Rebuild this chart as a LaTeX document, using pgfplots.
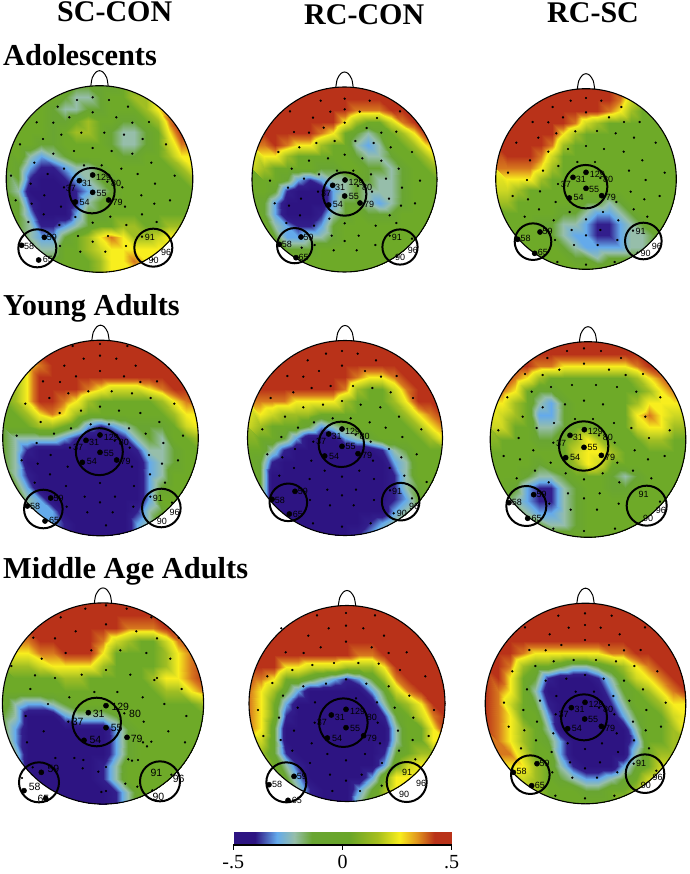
\documentclass[border=0pt]{standalone}
\usepackage{fontspec}
\setmainfont{Liberation Serif}
\newfontfamily\labf{Liberation Sans}
\usepackage{pgfplots}
\pgfplotsset{compat=1.18}
\pgfplotsset{
 colormap={heat}{rgb255(0)=(45,20,130) rgb255(1)=(50,30,140) rgb255(2)=(100,170,235) rgb255(3)=(150,190,170) rgb255(4)=(105,165,50) rgb255(5)=(110,170,40) rgb255(6)=(160,190,35) rgb255(7)=(205,215,35) rgb255(8)=(248,238,30) rgb255(9)=(215,120,30) rgb255(10)=(185,50,25)},
 colormap={bar}{rgb255(0)=(45,20,130) rgb255(10)=(45,20,130) rgb255(20)=(100,170,235) rgb255(28)=(150,190,170) rgb255(36)=(105,165,50) rgb255(53)=(105,165,40) rgb255(66)=(165,190,30) rgb255(76)=(248,238,30) rgb255(84)=(225,150,30) rgb255(92)=(185,50,25) rgb255(100)=(185,50,25)},
 px/.style={at={(0pt,0pt)},anchor=south west,scale only axis,width=689pt,height=874pt,xmin=0,xmax=689,ymin=0,ymax=874,hide axis},
}
\newcommand\heat[4]{\begin{scope}
 \clip ({#1pt},{874pt-#2pt}) circle[radius=#3pt];
 \begin{axis}[px,view={0}{90},colormap name=heat,point meta min=-5,point meta max=5]
 \addplot3[surf,shader=interp,mesh/cols=17,point meta=\thisrow{v}] table[row sep=crcr,x expr={#1+#3*(mod(\coordindex,17)-8)/8},y expr={874-(#2+#3*(floor(\coordindex/17)-8)/8)},z expr=0]{v\\ #4};
 \end{axis}\end{scope}}
\newcommand\sd[3]{\addplot[only marks,mark=*,mark size=0.95pt,black] table[row sep=crcr,header=false,x expr=\thisrowno{0}/3+#1,y expr=\thisrowno{1}/3+#2]{#3};}
\newcommand\bd[3]{\addplot[only marks,mark=*,mark size=2.6pt,black] table[row sep=crcr,header=false,x expr=\thisrowno{0}/3+#1,y expr=\thisrowno{1}/3+#2]{#3};}
\newcommand\roi[5]{\addplot[only marks,mark=o,mark size=#5pt,mark options={line width=#4pt,black}] table[row sep=crcr,header=false,x expr=\thisrowno{0}/3+#1,y expr=\thisrowno{1}/3+#2]{#3};}
\newcommand\head[3]{\addplot[only marks,mark=o,mark size=#3pt,mark options={line width=1.1pt,black}] coordinates {(#1,#2)};
 \addplot[smooth,black,line width=1pt] coordinates {({#1-8.7},{#2-#3+0.5}) ({#1-7.2},{#2-#3-8}) ({#1-3.6},{#2-#3-13.5}) ({#1},{#2-#3-15}) ({#1+3.6},{#2-#3-13.5}) ({#1+7.2},{#2-#3-8}) ({#1+8.7},{#2-#3+0.5})};}
\newcommand\tx[4][9]{\edef\tmp{\noexpand\node[anchor=west,inner sep=0pt,font={\noexpand\labf\noexpand\fontsize{#1}{#1}\noexpand\selectfont}] at (axis cs:{#2/3+\ox},{#3/3+\oy}) {#4};}\tmp}
\newcommand\ttl[4][30]{\node[anchor=base west,inner sep=0pt,font={\bfseries\fontsize{#1}{#1}\selectfont}] at (axis cs:#2,#3) {#4};}
\begin{document}
\begin{tikzpicture}[x=1pt,y=1pt]
\useasboundingbox (0,0) rectangle (689pt,874pt);
\heat{99.5}{179}{93.3}{
0\\0\\0\\0\\0\\0\\-1\\-1\\-1\\-1\\0\\0\\0\\1\\1\\1\\1\\
0\\0\\0\\0\\0\\-1\\-2\\-2\\-1\\0\\0\\1\\1\\3\\3\\3\\3\\
0\\0\\0\\0\\-1\\-2\\-2\\-1\\-1\\0\\0\\0\\1\\3\\4\\5\\5\\
0\\0\\0\\0\\-1\\-1\\0\\1\\0\\0\\-1\\-1\\0\\1\\4\\5\\5\\
0\\0\\0\\0\\-1\\0\\1\\1\\0\\-1\\-2\\-2\\-1\\0\\3\\5\\5\\
0\\0\\0\\-1\\-1\\0\\0\\0\\0\\-1\\-2\\-2\\-1\\0\\2\\4\\4\\
0\\0\\-2\\-3\\-2\\-1\\0\\0\\0\\0\\-1\\-1\\0\\0\\1\\3\\3\\
0\\-1\\-3\\-4\\-4\\-3\\-2\\-2\\-1\\0\\0\\0\\0\\0\\0\\1\\3\\
-1\\-1\\-4\\-5\\-5\\-4\\-3\\-2\\-1\\-1\\0\\0\\0\\0\\0\\0\\1\\
-1\\-2\\-5\\-5\\-5\\-5\\-4\\-3\\-2\\-1\\0\\0\\0\\0\\0\\0\\0\\
-1\\-1\\-4\\-5\\-5\\-5\\-4\\-2\\-1\\0\\0\\0\\0\\0\\0\\0\\0\\
0\\-1\\-3\\-5\\-5\\-5\\-3\\-1\\-1\\0\\0\\0\\0\\0\\0\\0\\0\\
0\\-1\\-2\\-4\\-4\\-3\\-2\\-1\\0\\0\\1\\1\\0\\0\\1\\1\\1\\
0\\0\\-2\\-3\\-3\\-1\\0\\1\\3\\4\\3\\1\\1\\2\\3\\3\\3\\
0\\0\\-1\\-2\\-2\\0\\0\\1\\2\\3\\3\\3\\3\\3\\3\\3\\3\\
0\\0\\0\\-1\\-1\\0\\0\\0\\1\\3\\3\\4\\3\\3\\3\\3\\3\\
0\\0\\0\\0\\0\\0\\0\\0\\1\\3\\3\\3\\3\\3\\3\\3\\3\\
}
\heat{344.5}{179.5}{92.5}{
5\\5\\5\\5\\5\\5\\5\\5\\5\\5\\5\\5\\5\\5\\5\\5\\5\\
5\\5\\5\\5\\5\\5\\5\\5\\5\\5\\5\\5\\5\\5\\5\\5\\5\\
5\\5\\5\\5\\5\\5\\5\\5\\5\\4\\4\\4\\5\\5\\5\\5\\5\\
5\\5\\5\\5\\5\\5\\5\\5\\3\\1\\0\\0\\2\\4\\5\\5\\5\\
5\\5\\5\\5\\5\\5\\4\\3\\0\\-1\\-2\\-1\\0\\1\\3\\5\\5\\
4\\4\\5\\4\\3\\3\\1\\0\\0\\-2\\-3\\-2\\0\\0\\1\\3\\4\\
3\\3\\3\\1\\0\\0\\0\\0\\0\\-1\\-2\\-2\\-1\\0\\0\\1\\3\\
2\\1\\0\\0\\0\\0\\-1\\-1\\0\\0\\-1\\-1\\-2\\-1\\0\\0\\1\\
0\\0\\0\\-1\\-3\\-4\\-3\\-2\\-2\\-1\\-1\\-2\\-2\\-1\\0\\0\\0\\
0\\0\\-1\\-4\\-5\\-5\\-5\\-3\\-2\\-1\\-2\\-2\\-2\\-1\\0\\0\\0\\
0\\-1\\-3\\-5\\-5\\-5\\-5\\-3\\-1\\-1\\-2\\-3\\-2\\-1\\0\\0\\0\\
0\\-1\\-3\\-5\\-5\\-5\\-4\\-2\\-1\\0\\-1\\-1\\-1\\0\\0\\0\\0\\
0\\0\\-2\\-3\\-4\\-4\\-3\\-1\\0\\0\\0\\0\\0\\0\\0\\0\\0\\
0\\0\\-1\\-3\\-3\\-2\\-2\\-1\\0\\0\\0\\0\\0\\0\\0\\0\\0\\
0\\0\\0\\-1\\-1\\-1\\0\\0\\0\\0\\0\\0\\0\\0\\0\\0\\0\\
0\\0\\0\\0\\0\\0\\0\\0\\0\\0\\0\\0\\0\\0\\0\\0\\0\\
0\\0\\0\\0\\0\\0\\0\\0\\0\\0\\0\\0\\0\\0\\0\\0\\0\\
}
\heat{586}{179}{90.3}{
5\\5\\5\\5\\5\\5\\5\\5\\5\\5\\5\\5\\4\\2\\0\\0\\0\\
5\\5\\5\\5\\5\\5\\5\\5\\5\\5\\5\\4\\2\\0\\0\\0\\0\\
5\\5\\5\\5\\5\\5\\5\\5\\5\\5\\4\\3\\1\\0\\0\\0\\0\\
5\\5\\5\\5\\5\\5\\5\\4\\2\\1\\0\\0\\0\\0\\0\\0\\0\\
5\\5\\5\\5\\5\\5\\3\\1\\0\\0\\0\\0\\0\\0\\0\\0\\0\\
5\\5\\5\\5\\5\\4\\1\\0\\0\\0\\0\\0\\0\\0\\0\\0\\0\\
5\\5\\5\\5\\4\\2\\0\\0\\0\\0\\0\\0\\0\\0\\0\\0\\0\\
4\\4\\4\\4\\3\\1\\0\\0\\0\\0\\0\\0\\0\\0\\0\\0\\0\\
3\\3\\3\\3\\1\\0\\0\\0\\0\\0\\0\\0\\0\\0\\0\\0\\0\\
2\\2\\1\\0\\0\\0\\0\\0\\0\\0\\0\\0\\0\\0\\0\\0\\0\\
1\\1\\0\\0\\0\\0\\0\\0\\-1\\-1\\-2\\-1\\0\\0\\0\\0\\0\\
0\\0\\0\\0\\0\\0\\-1\\-1\\-2\\-3\\-3\\-2\\-1\\0\\0\\0\\0\\
0\\0\\0\\0\\-1\\-1\\-2\\-2\\-3\\-4\\-4\\-3\\-2\\-1\\0\\0\\0\\
0\\0\\0\\0\\0\\-1\\-2\\-3\\-3\\-4\\-4\\-3\\-2\\-2\\-1\\0\\0\\
0\\0\\0\\0\\0\\0\\-1\\-2\\-3\\-3\\-3\\-3\\-2\\-2\\-1\\0\\0\\
0\\0\\0\\0\\0\\0\\0\\-1\\-1\\-2\\-1\\-1\\-1\\-1\\0\\0\\0\\
0\\0\\0\\0\\0\\0\\0\\0\\0\\0\\0\\0\\0\\0\\0\\0\\0\\
}
\heat{100.5}{438}{97.8}{
5\\5\\5\\5\\5\\5\\5\\5\\5\\5\\5\\5\\5\\5\\5\\5\\5\\
5\\5\\5\\5\\5\\5\\5\\5\\5\\5\\5\\5\\5\\5\\5\\5\\5\\
3\\3\\3\\4\\5\\5\\5\\5\\5\\5\\5\\5\\5\\5\\5\\5\\5\\
1\\1\\3\\5\\5\\5\\5\\5\\5\\5\\5\\5\\5\\5\\5\\5\\5\\
0\\1\\3\\5\\5\\5\\5\\4\\3\\2\\2\\2\\3\\4\\5\\5\\5\\
0\\1\\3\\5\\5\\4\\3\\1\\0\\0\\0\\0\\0\\1\\3\\4\\5\\
0\\0\\1\\3\\4\\3\\1\\0\\0\\0\\0\\0\\0\\0\\1\\3\\3\\
0\\0\\0\\1\\1\\0\\-1\\-3\\-4\\-3\\-2\\-1\\-1\\-1\\0\\2\\3\\
-1\\-2\\-2\\-2\\-2\\-3\\-4\\-5\\-5\\-5\\-4\\-2\\-1\\-2\\0\\0\\1\\
-1\\-2\\-4\\-5\\-5\\-5\\-5\\-5\\-5\\-5\\-5\\-4\\-2\\-2\\-1\\0\\0\\
-1\\-2\\-5\\-5\\-5\\-5\\-5\\-5\\-5\\-5\\-5\\-5\\-3\\-2\\-1\\0\\0\\
-1\\-2\\-4\\-5\\-5\\-5\\-5\\-5\\-5\\-5\\-5\\-5\\-3\\-2\\0\\0\\0\\
0\\-1\\-3\\-5\\-5\\-5\\-5\\-5\\-5\\-5\\-5\\-5\\-3\\-1\\0\\0\\0\\
0\\0\\-2\\-3\\-5\\-5\\-5\\-5\\-5\\-5\\-5\\-5\\-3\\0\\0\\0\\0\\
0\\0\\-1\\-3\\-3\\-5\\-5\\-5\\-5\\-5\\-5\\-4\\-2\\-1\\0\\0\\0\\
0\\0\\0\\-2\\-3\\-4\\-5\\-5\\-5\\-5\\-5\\-3\\-2\\0\\0\\0\\0\\
0\\0\\0\\-2\\-3\\-4\\-5\\-5\\-5\\-5\\-5\\-3\\-2\\0\\0\\0\\0\\
}
\heat{345}{438}{97.5}{
5\\5\\5\\5\\5\\5\\5\\5\\5\\5\\5\\5\\5\\5\\5\\5\\5\\
5\\5\\5\\5\\5\\5\\5\\5\\5\\5\\5\\5\\5\\5\\5\\5\\5\\
5\\5\\5\\5\\5\\5\\5\\5\\5\\5\\5\\5\\5\\5\\5\\5\\5\\
5\\5\\5\\5\\5\\5\\5\\5\\5\\4\\3\\3\\4\\5\\5\\5\\5\\
5\\5\\5\\5\\5\\5\\5\\5\\4\\1\\0\\0\\2\\4\\5\\5\\5\\
4\\4\\4\\4\\3\\3\\3\\3\\1\\0\\0\\0\\1\\3\\5\\5\\5\\
3\\3\\2\\1\\1\\1\\0\\0\\0\\0\\0\\0\\0\\1\\3\\4\\5\\
2\\1\\0\\0\\0\\-1\\-3\\-2\\-1\\0\\0\\0\\0\\0\\1\\3\\4\\
1\\0\\0\\-1\\-3\\-5\\-5\\-5\\-3\\-2\\-1\\0\\0\\0\\0\\1\\3\\
0\\0\\-2\\-4\\-5\\-5\\-5\\-5\\-5\\-5\\-5\\-4\\-2\\-1\\0\\0\\0\\
0\\-1\\-4\\-5\\-5\\-5\\-5\\-5\\-5\\-5\\-5\\-5\\-3\\-2\\0\\0\\0\\
0\\-1\\-5\\-5\\-5\\-5\\-5\\-5\\-5\\-5\\-5\\-5\\-4\\-2\\0\\0\\0\\
0\\-1\\-5\\-5\\-5\\-5\\-5\\-5\\-5\\-5\\-5\\-5\\-4\\-2\\-1\\0\\0\\
-1\\-1\\-5\\-5\\-5\\-5\\-5\\-5\\-5\\-5\\-5\\-5\\-4\\-3\\-1\\0\\0\\
-1\\-1\\-4\\-5\\-5\\-5\\-5\\-5\\-5\\-5\\-5\\-5\\-3\\-2\\-1\\0\\0\\
-1\\-1\\-4\\-5\\-5\\-5\\-5\\-5\\-5\\-5\\-4\\-3\\-2\\-1\\0\\0\\0\\
0\\0\\-4\\-5\\-5\\-5\\-5\\-5\\-5\\-4\\-3\\-2\\-1\\0\\0\\0\\0\\
}
\heat{588}{439.5}{97.8}{
5\\5\\5\\5\\5\\5\\5\\5\\5\\5\\5\\5\\5\\5\\5\\5\\5\\
5\\5\\5\\5\\5\\5\\5\\5\\5\\5\\5\\5\\5\\5\\5\\5\\5\\
5\\5\\5\\5\\4\\4\\3\\3\\3\\3\\3\\3\\4\\5\\5\\5\\5\\
5\\5\\4\\3\\1\\0\\0\\0\\0\\0\\0\\0\\1\\3\\4\\5\\5\\
4\\4\\3\\0\\-1\\-1\\0\\0\\0\\0\\0\\0\\0\\1\\3\\4\\4\\
3\\3\\1\\0\\-2\\-3\\-1\\0\\0\\0\\0\\0\\1\\3\\3\\3\\3\\
3\\2\\1\\0\\-3\\-3\\-1\\0\\0\\0\\0\\0\\3\\4\\3\\2\\2\\
2\\2\\0\\0\\-2\\-2\\-1\\0\\0\\0\\0\\0\\2\\3\\3\\1\\1\\
1\\0\\0\\0\\-1\\-1\\0\\1\\3\\1\\0\\0\\0\\1\\1\\0\\0\\
0\\0\\0\\0\\0\\0\\0\\2\\3\\3\\1\\0\\0\\0\\0\\0\\0\\
0\\0\\0\\0\\-1\\0\\0\\1\\3\\2\\0\\0\\0\\0\\0\\0\\0\\
0\\0\\0\\-1\\-2\\-2\\-1\\0\\0\\0\\-1\\-2\\-1\\0\\0\\0\\0\\
0\\0\\-1\\-3\\-4\\-4\\-2\\-1\\0\\0\\-1\\-1\\0\\0\\0\\0\\0\\
0\\-1\\-2\\-3\\-4\\-4\\-2\\-1\\0\\0\\0\\0\\0\\0\\0\\0\\0\\
0\\0\\-1\\-2\\-3\\-3\\-2\\-1\\0\\0\\0\\0\\0\\0\\0\\0\\0\\
0\\0\\0\\-1\\-1\\-2\\-2\\-1\\0\\0\\0\\0\\0\\0\\0\\0\\0\\
0\\0\\0\\0\\0\\0\\0\\0\\0\\0\\0\\0\\0\\0\\0\\0\\0\\
}
\heat{103}{703.5}{100.6}{
5\\5\\5\\5\\5\\5\\5\\5\\5\\5\\5\\5\\5\\5\\5\\5\\5\\
5\\5\\5\\5\\5\\5\\5\\5\\5\\5\\5\\5\\5\\5\\5\\5\\5\\
5\\5\\5\\5\\5\\5\\5\\5\\5\\5\\4\\4\\4\\5\\5\\5\\5\\
4\\4\\4\\5\\5\\5\\5\\5\\4\\2\\1\\0\\0\\2\\4\\5\\5\\
3\\3\\3\\4\\4\\5\\5\\5\\3\\0\\0\\0\\0\\1\\3\\4\\5\\
1\\1\\1\\2\\3\\3\\3\\3\\1\\0\\0\\0\\0\\1\\3\\4\\5\\
0\\0\\0\\0\\0\\1\\1\\0\\0\\0\\0\\0\\1\\3\\3\\4\\5\\
0\\0\\0\\0\\0\\0\\0\\0\\0\\0\\0\\0\\0\\1\\1\\3\\4\\
0\\-2\\-3\\-3\\-2\\-1\\0\\0\\0\\0\\0\\0\\0\\0\\0\\0\\1\\
-1\\-2\\-5\\-5\\-5\\-3\\-2\\-2\\-2\\-1\\0\\0\\0\\0\\0\\0\\0\\
-1\\-3\\-5\\-5\\-5\\-5\\-5\\-5\\-5\\-3\\-1\\0\\0\\0\\0\\0\\0\\
-1\\-3\\-5\\-5\\-5\\-5\\-5\\-5\\-5\\-3\\-1\\0\\0\\0\\0\\0\\0\\
-1\\-2\\-5\\-5\\-5\\-5\\-5\\-5\\-5\\-3\\-1\\0\\0\\0\\0\\0\\0\\
-1\\-1\\-5\\-5\\-5\\-5\\-5\\-5\\-4\\-2\\0\\0\\0\\0\\0\\0\\0\\
-1\\-1\\-4\\-5\\-5\\-5\\-5\\-5\\-4\\-2\\0\\0\\0\\0\\0\\0\\0\\
-1\\-1\\-4\\-5\\-5\\-5\\-5\\-5\\-5\\-4\\-2\\0\\0\\0\\0\\0\\0\\
-1\\-1\\-4\\-5\\-5\\-5\\-5\\-5\\-5\\-4\\-2\\0\\0\\0\\0\\0\\0\\
}
\heat{347}{703.5}{98}{
5\\5\\5\\5\\5\\5\\5\\5\\5\\5\\5\\5\\5\\5\\5\\5\\5\\
5\\5\\5\\5\\5\\5\\5\\5\\5\\5\\5\\5\\5\\5\\5\\5\\5\\
5\\5\\5\\5\\5\\5\\5\\5\\5\\5\\5\\5\\5\\5\\5\\5\\5\\
5\\5\\5\\5\\5\\5\\5\\5\\5\\5\\5\\5\\5\\5\\5\\5\\5\\
5\\5\\5\\5\\5\\5\\5\\5\\5\\4\\4\\5\\5\\5\\5\\5\\5\\
5\\5\\5\\3\\3\\2\\2\\2\\1\\1\\1\\3\\5\\5\\5\\5\\5\\
5\\4\\3\\0\\0\\-1\\-2\\-3\\-4\\-3\\-1\\1\\4\\5\\5\\5\\5\\
4\\3\\1\\-1\\-3\\-5\\-5\\-5\\-5\\-5\\-3\\-1\\2\\4\\5\\5\\5\\
4\\3\\0\\-3\\-5\\-5\\-5\\-5\\-5\\-5\\-5\\-2\\0\\1\\3\\5\\5\\
4\\3\\0\\-4\\-5\\-5\\-5\\-5\\-5\\-5\\-5\\-4\\-1\\0\\2\\4\\5\\
4\\3\\-1\\-5\\-5\\-5\\-5\\-5\\-5\\-5\\-5\\-5\\-2\\0\\0\\3\\5\\
3\\2\\-1\\-5\\-5\\-5\\-5\\-5\\-5\\-5\\-5\\-5\\-2\\0\\0\\3\\3\\
2\\1\\-1\\-4\\-5\\-5\\-5\\-5\\-5\\-5\\-5\\-4\\-1\\0\\1\\1\\1\\
1\\1\\0\\-2\\-4\\-5\\-5\\-5\\-5\\-5\\-5\\-3\\0\\2\\3\\3\\3\\
0\\0\\0\\-1\\-3\\-5\\-5\\-5\\-5\\-5\\-3\\0\\3\\3\\3\\3\\3\\
0\\0\\0\\0\\-2\\-4\\-5\\-5\\-5\\-3\\-1\\1\\3\\3\\3\\3\\3\\
0\\0\\0\\0\\-1\\-4\\-5\\-5\\-5\\-2\\0\\1\\3\\3\\3\\3\\3\\
}
\heat{585.5}{703.5}{100.3}{
5\\5\\5\\5\\5\\5\\5\\5\\5\\5\\5\\5\\5\\5\\5\\5\\5\\
5\\5\\5\\5\\5\\5\\5\\5\\5\\5\\5\\5\\5\\5\\5\\5\\5\\
5\\5\\5\\5\\5\\5\\5\\5\\5\\5\\5\\5\\5\\5\\5\\5\\5\\
5\\5\\5\\5\\5\\5\\5\\5\\5\\5\\5\\5\\5\\5\\5\\5\\5\\
5\\5\\5\\4\\3\\3\\3\\3\\3\\3\\4\\4\\5\\5\\5\\5\\5\\
5\\5\\4\\1\\0\\0\\-1\\-2\\-2\\-1\\0\\1\\3\\4\\5\\5\\5\\
5\\5\\3\\0\\-1\\-4\\-5\\-5\\-5\\-4\\-2\\0\\2\\3\\4\\5\\5\\
5\\4\\3\\0\\-2\\-5\\-5\\-5\\-5\\-5\\-3\\-1\\0\\1\\3\\4\\5\\
5\\4\\2\\0\\-1\\-4\\-5\\-5\\-5\\-5\\-4\\-2\\0\\0\\1\\3\\3\\
5\\4\\3\\0\\0\\-3\\-5\\-5\\-5\\-5\\-5\\-3\\-1\\0\\0\\2\\3\\
5\\4\\3\\1\\0\\-2\\-5\\-5\\-5\\-5\\-5\\-5\\-2\\0\\0\\1\\3\\
4\\4\\3\\1\\0\\-1\\-3\\-5\\-5\\-5\\-5\\-5\\-3\\0\\0\\1\\1\\
4\\4\\4\\2\\0\\0\\-3\\-5\\-5\\-5\\-5\\-5\\-2\\0\\1\\1\\1\\
3\\3\\3\\3\\1\\0\\-2\\-4\\-5\\-5\\-5\\-3\\-1\\0\\2\\2\\2\\
1\\1\\1\\2\\1\\0\\-1\\-2\\-3\\-3\\-2\\-1\\0\\2\\3\\3\\3\\
1\\1\\1\\1\\1\\0\\0\\0\\-1\\-1\\0\\0\\1\\3\\3\\3\\3\\
0\\0\\0\\0\\0\\0\\0\\0\\0\\0\\0\\1\\1\\3\\3\\3\\3\\
}
\begin{axis}[px,clip=false,y dir=reverse]
\head{99.5}{179}{93.3}
\head{344.5}{179.5}{92.5}
\head{586}{179}{90.3}
\head{100.5}{438}{97.8}
\head{345}{438}{97.5}
\head{588}{439.5}{97.8}
\head{103}{703.5}{100.6}
\head{347}{703.5}{98}
\head{585.5}{703.5}{100.3}
% head 1
\sd{0}{60}{231 120\\278 112\\327 120\\173 140\\384 140\\278 157\\208 172\\349 172\\110 187\\160 188\\397 188\\447 186\\244 218\\184 224\\313 218\\372 224\\129 237\\428 237\\60 253\\498 253\\278 264\\222 273\\335 273\\160 281\\397 281\\103 308\\454 308\\192 326\\252 316\\305 316\\364 326\\33 347\\143 342\\413 342\\524 347\\92 371\\322 365\\192 382\\367 382\\465 371\\133 406\\424 406\\47 421\\510 421\\95 431\\463 431\\183 440\\375 440\\131 463\\426 463\\85 486\\470 486\\178 495\\278 488\\331 470\\226 471\\379 495\\234 528\\324 528\\180 558\\278 545\\378 558\\241 575\\316 575\\426 530\\458 598\\}
\bd{0}{60}{278 345\\238 362\\278 397\\226 426\\326 420\\133 532\\65 556\\116 600\\}
\roi{0}{60}{276 392\\}{2}{22.7}
\roi{0}{60}{112 565\\460 563\\}{2}{19}
\def\ox{0}\def\oy{60}
\tx{288}{352}{129}\tx{245}{369}{31}\tx{289}{399}{55}\tx{238}{427}{54}\tx{337}{427}{79}\tx{197}{384}{37}\tx{333}{370}{80}\tx{140}{532}{59}\tx{72}{558}{58}\tx{128}{599}{65}\tx{434}{532}{91}\tx{483}{577}{96}\tx{445}{600}{90}
% head 2
\sd{240}{60}{242 122\\314 116\\389 122\\150 154\\271 155\\314 148\\359 155\\480 154\\219 173\\411 174\\314 188\\251 203\\380 204\\162 216\\207 218\\424 218\\469 215\\284 243\\346 243\\401 249\\178 262\\229 249\\452 262\\115 276\\314 284\\516 276\\207 302\\264 295\\367 295\\424 302\\476 326\\155 326\\291 332\\340 332\\393 343\\237 343\\438 356\\90 362\\192 356\\540 362\\354 378\\144 383\\486 383\\234 395\\396 395\\183 416\\447 416\\104 430\\147 437\\483 437\\525 430\\180 466\\449 466\\268 476\\139 489\\314 490\\407 497\\222 497\\469 489\\275 527\\356 527\\224 555\\314 543\\406 555\\185 563\\281 571\\350 571\\449 527\\516 536\\470 590\\}
\bd{240}{60}{315 360\\278 376\\314 408\\266 435\\360 429\\183 531\\118 553\\168 593\\}
\roi{240}{60}{314 402\\}{2}{21.7}
\roi{240}{60}{164 557\\480 561\\}{2}{17.6}
\def\ox{240}\def\oy{60}
\tx{325}{368}{129}\tx{285}{382}{31}\tx{326}{409}{55}\tx{278}{434}{54}\tx{372}{433}{79}\tx{243}{399}{37}\tx{366}{382}{80}\tx{190}{532}{59}\tx{125}{553}{58}\tx{175}{593}{65}\tx{455}{533}{91}\tx{503}{572}{96}\tx{465}{592}{90}
% head 3
\sd{459}{60}{335 122\\381 114\\427 122\\281 141\\487 141\\381 157\\312 172\\450 172\\221 186\\268 187\\495 186\\542 186\\349 214\\414 213\\292 220\\470 220\\238 233\\525 233\\172 248\\590 248\\381 258\\327 267\\435 267\\268 275\\494 275\\213 301\\550 301\\298 318\\355 306\\408 306\\147 338\\252 332\\510 332\\617 338\\204 360\\560 360\\424 354\\297 372\\243 394\\515 395\\161 408\\602 408\\207 418\\556 418\\290 426\\472 426\\240 448\\524 448\\332 456\\432 456\\197 470\\565 470\\284 481\\478 481\\381 478\\338 510\\424 510\\288 540\\381 526\\475 540\\345 555\\416 555\\295 606\\381 614\\467 606\\522 512\\536 578\\}
\bd{459}{60}{381 337\\342 352\\381 385\\331 414\\428 407\\243 516\\176 538\\227 580\\}
\roi{459}{60}{380 380\\}{2}{21.7}
\roi{459}{60}{222 545\\553 543\\}{2}{18.3}
\def\ox{459}\def\oy{60}
\tx{392}{342}{129}\tx{350}{358}{31}\tx{390}{387}{55}\tx{343}{412}{54}\tx{440}{412}{79}\tx{305}{373}{37}\tx{432}{357}{80}\tx{250}{514}{59}\tx{184}{536}{58}\tx{236}{578}{65}\tx{529}{515}{91}\tx{578}{558}{96}\tx{544}{580}{90}
% head 4
\sd{0}{320}{218 78\\300 72\\382 78\\251 116\\300 107\\349 116\\193 137\\407 137\\300 153\\228 169\\372 169\\129 184\\180 186\\421 186\\471 184\\335 214\\265 214\\205 220\\396 220\\148 234\\452 234\\76 251\\523 251\\300 260\\243 272\\357 272\\179 279\\421 279\\122 306\\478 306\\213 325\\387 325\\272 313\\327 313\\50 347\\162 341\\437 341\\549 347\\344 362\\110 369\\490 369\\210 383\\389 383\\152 405\\447 405\\65 421\\534 421\\113 431\\486 431\\203 440\\396 440\\150 463\\450 463\\104 488\\495 488\\198 498\\300 489\\402 498\\254 530\\345 530\\200 560\\300 547\\400 560\\262 577\\338 577\\318 616\\451 530\\516 548\\}
\bd{0}{320}{300 345\\258 361\\300 397\\247 427\\350 420\\152 534\\82 558\\135 603\\}
\roi{0}{320}{298 395\\}{2}{23.5}
\roi{0}{320}{130 567\\484 564\\}{2}{19.3}
\def\ox{0}\def\oy{320}
\tx{311}{351}{129}\tx{267}{368}{31}\tx{311}{399}{55}\tx{260}{425}{54}\tx{361}{425}{79}\tx{219}{383}{37}\tx{356}{368}{80}\tx{160}{535}{59}\tx{90}{558}{58}\tx{147}{602}{65}\tx{458}{535}{91}\tx{508}{578}{96}\tx{470}{603}{90}
% head 5
\sd{240}{320}{258 101\\306 93\\353 101\\203 121\\408 121\\306 137\\237 153\\375 153\\142 168\\190 170\\423 170\\470 168\\160 217\\215 204\\272 198\\339 198\\397 204\\452 217\\92 234\\519 234\\306 243\\190 262\\249 254\\362 254\\421 262\\135 290\\477 290\\222 307\\278 295\\332 295\\389 307\\67 328\\174 323\\437 323\\544 328\\124 351\\487 351\\347 344\\220 365\\392 365\\165 387\\447 387\\82 403\\127 412\\484 412\\530 403\\214 422\\399 422\\162 444\\449 444\\254 452\\358 452\\118 467\\493 467\\209 477\\306 470\\402 477\\262 509\\348 509\\560 486\\210 540\\306 526\\402 540\\270 556\\341 556\\219 610\\392 610\\306 620\\450 511\\516 535\\461 580\\}
\bd{240}{320}{306 327\\266 342\\306 379\\254 408\\354 401\\165 514\\96 538\\148 582\\}
\roi{240}{320}{304 373\\}{2}{22.7}
\roi{240}{320}{145 547\\482 545\\}{2}{18.8}
\def\ox{240}\def\oy{320}
\tx{315}{334}{129}\tx{274}{348}{31}\tx{316}{380}{55}\tx{267}{408}{54}\tx{366}{407}{79}\tx{228}{364}{37}\tx{358}{348}{80}\tx{173}{514}{59}\tx{104}{540}{58}\tx{158}{582}{65}\tx{456}{515}{91}\tx{507}{558}{96}\tx{470}{581}{90}
% head 6
\sd{459}{320}{324 93\\375 85\\426 93\\265 114\\486 114\\301 149\\375 131\\450 149\\198 162\\251 165\\500 165\\552 162\\339 195\\411 195\\218 215\\276 201\\474 201\\532 215\\145 232\\604 232\\375 242\\318 253\\432 253\\191 290\\559 290\\285 309\\465 309\\348 297\\402 297\\233 324\\517 324\\118 331\\632 331\\179 354\\570 354\\420 346\\283 368\\467 368\\223 391\\527 391\\134 408\\617 408\\183 418\\567 418\\275 428\\475 428\\320 460\\431 460\\228 452\\522 452\\173 475\\577 475\\269 487\\481 487\\375 478\\327 520\\422 520\\271 551\\375 535\\479 551\\335 569\\414 569\\283 626\\375 633\\468 626\\251 262\\603 545\\}
\bd{459}{320}{376 329\\333 346\\375 382\\320 413\\427 406\\224 524\\150 548\\206 595\\}
\roi{459}{320}{374 378\\}{2}{24.7}
\roi{459}{320}{202 558\\563 557\\}{2}{20}
\def\ox{459}\def\oy{320}
\tx{386}{335}{129}\tx{341}{352}{31}\tx{385}{383}{55}\tx{333}{412}{54}\tx{438}{412}{79}\tx{291}{369}{37}\tx{431}{352}{80}\tx{232}{523}{59}\tx{158}{548}{58}\tx{217}{595}{65}\tx{538}{524}{91}\tx{590}{570}{96}\tx{552}{596}{90}
% head 7
\sd{0}{580}{256 86\\318 76\\380 86\\182 112\\454 112\\318 133\\227 154\\409 154\\100 173\\165 175\\471 175\\536 173\\274 211\\197 219\\361 211\\439 219\\125 236\\511 236\\34 258\\318 270\\245 284\\391 284\\165 294\\471 294\\463 300\\105 286\\91 327\\545 327\\283 336\\352 336\\208 352\\428 352\\144 372\\493 372\\373 400\\77 408\\559 408\\205 425\\431 425\\131 454\\505 454\\429 487\\81 487\\555 487\\454 485\\441 499\\166 534\\223 534\\250 540\\385 538\\396 542\\414 540\\248 565\\295 575\\318 561\\98 562\\66 594\\376 611\\412 620\\304 636\\318 633\\457 631\\514 584\\}
\bd{0}{580}{318 377\\265 398\\318 443\\252 481\\381 472\\124 577\\72 632\\137 655\\}
\roi{0}{580}{290 426\\}{2}{24.3}
\roi{0}{580}{117 607\\480 604\\}{2}{20}
\def\ox{0}\def\oy{580}
\tx[10.5]{334}{382}{129}\tx[10.5]{278}{403}{31}\tx[10.5]{387}{403}{80}\tx[10.5]{215}{426}{37}\tx[10.5]{332}{444}{55}\tx[10.5]{268}{479}{54}\tx[10.5]{392}{478}{79}\tx[10.5]{142}{568}{59}\tx[10.5]{86}{622}{58}\tx[10.5]{112}{657}{65}\tx[10.5]{451}{579}{91}\tx[10.5]{518}{598}{96}\tx[10.5]{457}{651}{90}
% head 8
\sd{240}{580}{231 106\\318 99\\405 106\\266 145\\318 137\\370 145\\124 145\\205 167\\432 167\\318 185\\242 202\\395 202\\137 217\\191 219\\446 219\\500 217\\282 249\\355 249\\217 255\\416 251\\157 270\\480 270\\82 289\\556 289\\318 298\\258 311\\379 311\\97 309\\190 319\\446 319\\129 347\\508 347\\348 355\\225 367\\411 367\\173 383\\464 383\\54 390\\582 390\\117 413\\520 413\\224 428\\413 428\\162 452\\474 452\\70 468\\566 468\\122 480\\518 480\\215 490\\420 490\\157 512\\477 512\\262 522\\375 522\\318 541\\210 549\\426 549\\526 538\\270 584\\365 584\\318 602\\277 633\\360 633\\425 617\\}
\bd{240}{580}{318 388\\274 405\\318 443\\262 474\\371 467\\162 589\\87 614\\144 661\\}
\roi{240}{580}{310 428\\}{2}{24.3}
\roi{240}{580}{139 607\\500 606\\}{2}{20}
\def\ox{240}\def\oy{580}
\tx{330}{394}{129}\tx{284}{412}{31}\tx{380}{412}{80}\tx{230}{428}{37}\tx{330}{444}{55}\tx{276}{474}{54}\tx{380}{474}{79}\tx{170}{590}{59}\tx{96}{614}{58}\tx{155}{662}{65}\tx{486}{577}{91}\tx{528}{609}{96}\tx{477}{644}{90}
% head 9
\sd{459}{580}{298 107\\378 100\\458 107\\198 142\\329 143\\378 135\\425 143\\558 142\\272 163\\482 163\\378 180\\307 195\\450 195\\211 210\\260 211\\495 211\\545 210\\344 240\\411 240\\284 244\\471 244\\229 258\\526 258\\160 274\\595 274\\378 285\\322 296\\434 296\\260 302\\495 302\\204 328\\552 328\\350 335\\405 335\\292 348\\463 348\\135 368\\620 368\\243 362\\511 362\\193 390\\562 390\\290 403\\466 403\\420 383\\234 425\\522 425\\149 440\\606 440\\196 451\\560 451\\283 460\\473 460\\326 490\\429 490\\231 481\\525 481\\186 505\\570 505\\278 516\\477 516\\378 507\\333 547\\423 547\\280 577\\378 565\\475 577\\340 593\\414 593\\289 647\\378 655\\466 647\\524 551\\592 572\\}
\bd{459}{580}{378 367\\337 383\\377 417\\326 446\\427 439\\234 551\\163 577\\218 617\\}
\roi{459}{580}{375 412\\}{2}{23}
\roi{459}{580}{214 584\\558 581\\}{2}{19.3}
\def\ox{459}\def\oy{580}
\tx{388}{373}{129}\tx{346}{388}{31}\tx{387}{419}{55}\tx{338}{445}{54}\tx{438}{445}{79}\tx{298}{403}{37}\tx{432}{388}{80}\tx{241}{549}{59}\tx{172}{575}{58}\tx{227}{617}{65}\tx{531}{550}{91}\tx{580}{593}{96}\tx{545}{617}{90}
\ttl{57}{22}{SC-CON}\ttl{304}{25}{RC-CON}\ttl{547}{23}{RC-SC}
\ttl[30.4]{3}{66}{Adolescents}\ttl[30.4]{3}{316}{Young Adults}\ttl[30.4]{3}{578}{Middle Age Adults}
\end{axis}
\begin{axis}[at={(233.3pt,29pt)},anchor=south west,scale only axis,width=218.4pt,height=13.3pt,xmin=-0.5,xmax=0.5,ymin=0,ymax=1,colormap name=bar,point meta min=-0.5,point meta max=0.5,view={0}{90},axis x line*=bottom,hide y axis,xtick={-0.5,0,0.5},xticklabels={-.5,0,.5},x axis line style={line width=1.5pt,-},x tick style={line width=1.3pt,black},major tick length=5pt,tick align=outside,/pgf/number format/assume math mode=true,xticklabel style={font=\fontsize{20}{20}\selectfont,yshift=-2pt}]
\addplot3[surf,shader=interp,mesh/cols=2,point meta=x] coordinates {(-0.5,0,0) (0.5,0,0) (-0.5,1,0) (0.5,1,0)};
\end{axis}
\end{tikzpicture}
\end{document}
